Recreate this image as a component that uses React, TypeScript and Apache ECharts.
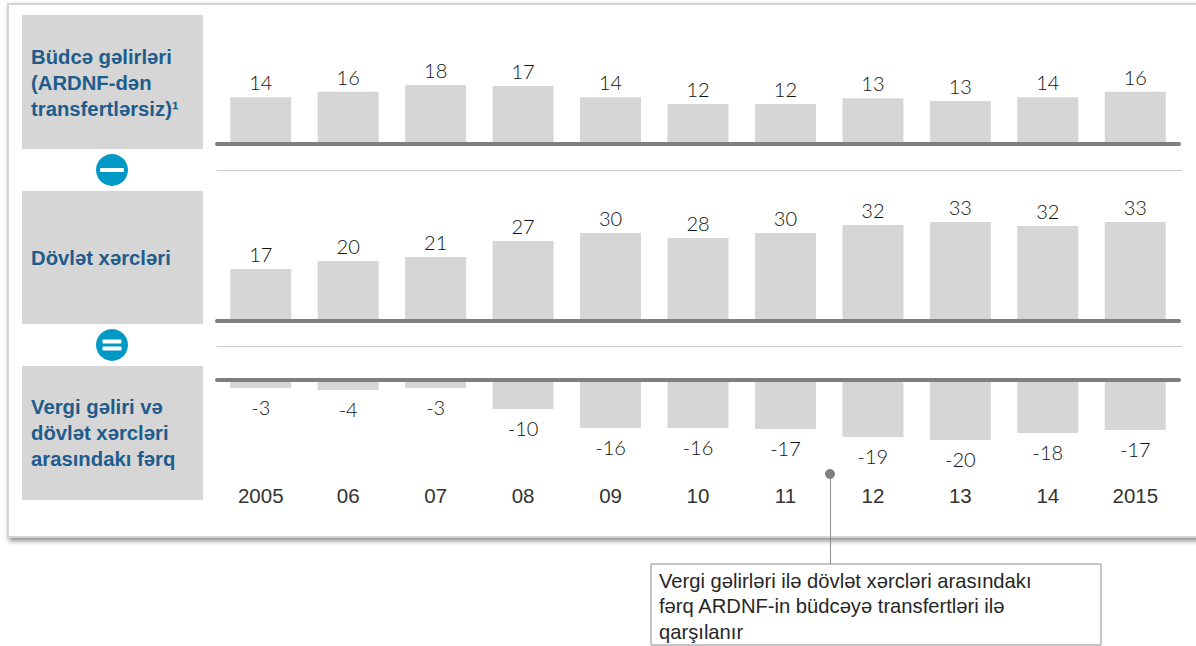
import React, { useEffect, useRef } from "react";
import * as echarts from "echarts";

const years = ["2005", "06", "07", "08", "09", "10", "11", "12", "13", "14", "2015"];
const revenueHeights = [14.2, 15.8, 17.9, 17.6, 14.2, 12.1, 12.1, 13.9, 13.0, 14.2, 15.8];
const revenueLabels = [14, 16, 18, 17, 14, 12, 12, 13, 13, 14, 16];
const spendingHeights = [17.3, 20, 21.3, 26.7, 29.3, 27.7, 29.3, 32, 33, 31.7, 33];
const spendingLabels = [17, 20, 21, 27, 30, 28, 30, 32, 33, 32, 33];
const gapHeights = [-2.7, -3.3, -2.7, -9.7, -16, -16, -16.3, -19, -20, -17.7, -16.7];
const gapLabels = [-3, -4, -3, -10, -16, -16, -17, -19, -20, -18, -17];

const rowTitles = [
  "Büdcə gəlirləri\n(ARDNF-dən\ntransfertlərsiz)¹",
  "Dövlət xərcləri",
  "Vergi gəliri və\ndövlət xərcləri\narasındakı fərq",
];
const note = "Vergi gəlirləri ilə dövlət xərcləri arasındakı\nfərq ARDNF-in büdcəyə transfertləri ilə\nqarşılanır";

const SANS = "Liberation Sans, Arial, sans-serif";
const NUM = "Lato, Liberation Sans, sans-serif";
const BAR = "#d6d6d6";
const AXIS = "#7f7f7f";
const BLUE = "#0099c6";
const TITLE = "#1f5c8b";

const GRID_LEFT = 217;
const GRID_WIDTH = 962;

function panelSeries(xAxisIndex: number, yAxisIndex: number, values: number[], labels: number[], position: string, distance: number) {
  return {
    type: "bar",
    xAxisIndex,
    yAxisIndex,
    data: values,
    barWidth: 61,
    silent: true,
    itemStyle: { color: BAR },
    label: {
      show: true,
      position,
      distance,
      fontFamily: NUM,
      fontWeight: 300,
      fontSize: 20,
      color: "#111111",
      formatter: (p: { dataIndex: number }) => String(labels[p.dataIndex]),
    },
  };
}

function baseXAxis(gridIndex: number, pos: string) {
  return {
    type: "category",
    gridIndex,
    position: pos,
    data: years,
    z: 5,
    axisLine: { show: true, onZero: false, lineStyle: { color: AXIS, width: 4, cap: "round" } },
    axisTick: { show: false },
    axisLabel: { show: false },
    splitLine: { show: false },
  };
}

function hiddenY(gridIndex: number, min: number, max: number) {
  return { type: "value", gridIndex, min, max, show: false, splitLine: { show: false } };
}

function titleBox(y: number, h: number, textY: number, text: string) {
  return [
    { type: "rect", z: 1, shape: { x: 22, y, width: 181, height: h }, style: { fill: BAR } },
    {
      type: "text",
      z: 2,
      x: 31,
      y: textY,
      style: { text, fill: TITLE, font: `bold 20.3px ${SANS}`, lineHeight: 26, textAlign: "left", textVerticalAlign: "middle" },
    },
  ];
}

function sign(cy: number, width: number, bars: number[]) {
  return [
    { type: "circle", z: 2, shape: { cx: 112, cy, r: 16 }, style: { fill: BLUE } },
    ...bars.map((y) => ({
      type: "rect",
      z: 3,
      shape: { x: 112 - width / 2, y: cy + y - 2, width, height: 4, r: 1 },
      style: { fill: "#ffffff" },
    })),
  ];
}

function thinLine(y: number) {
  return { type: "line", z: 1, shape: { x1: 217, y1: y, x2: 1182, y2: y }, style: { stroke: "#c9c9c9", lineWidth: 1 } };
}

export default function App() {
  const ref = useRef<HTMLDivElement>(null);
  useEffect(() => {
    if (!ref.current) return;
    const chart = echarts.init(ref.current, null, { renderer: "svg" });
    chart.setOption({
      animation: false,
      backgroundColor: "#ffffff",
      tooltip: { show: false },
      grid: [
        { left: GRID_LEFT, width: GRID_WIDTH, top: 45, height: 99 },
        { left: GRID_LEFT, width: GRID_WIDTH, top: 201, height: 120 },
        { left: GRID_LEFT, width: GRID_WIDTH, top: 380, height: 90 },
      ],
      xAxis: [
        baseXAxis(0, "bottom"),
        baseXAxis(1, "bottom"),
        baseXAxis(2, "top"),
        {
          type: "category",
          gridIndex: 2,
          position: "bottom",
          data: years,
          axisLine: { show: false },
          axisTick: { show: false },
          axisLabel: { show: true, interval: 0, margin: 15, fontFamily: SANS, fontWeight: "normal", fontSize: 20.5, color: "#333333" },
        },
      ],
      yAxis: [hiddenY(0, 0, 30), hiddenY(1, 0, 40), hiddenY(2, -30, 0)],
      series: [
        panelSeries(0, 0, revenueHeights, revenueLabels, "top", 5),
        panelSeries(1, 1, spendingHeights, spendingLabels, "top", 5),
        panelSeries(2, 2, gapHeights, gapLabels, "bottom", 9),
      ],
      graphic: {
        elements: [
          {
            type: "rect",
            z: 0,
            shape: { x: 8, y: 4, width: 1300, height: 533 },
            style: { fill: "#ffffff", stroke: "#d4d4d4", lineWidth: 2, shadowBlur: 5, shadowOffsetX: 2, shadowOffsetY: 3, shadowColor: "rgba(0,0,0,0.45)" },
          },
          ...titleBox(15, 134, 83, rowTitles[0]),
          ...titleBox(191, 133, 258, rowTitles[1]),
          ...titleBox(366, 134, 433, rowTitles[2]),
          ...sign(170, 24, [0]),
          ...sign(345, 19, [-3.5, 3.5]),
          thinLine(170.5),
          thinLine(346.5),
          { type: "line", z: 4, shape: { x1: 830.5, y1: 474, x2: 830.5, y2: 564 }, style: { stroke: "#8c8c8c", lineWidth: 1 } },
          { type: "circle", z: 4, shape: { cx: 830, cy: 474, r: 5 }, style: { fill: "#7f7f7f" } },
          {
            type: "rect",
            z: 4,
            shape: { x: 651, y: 564, width: 450, height: 81 },
            style: { fill: "#ffffff", stroke: "#8c8c8c", lineWidth: 1 },
          },
          {
            type: "text",
            z: 5,
            x: 659,
            y: 606,
            style: { text: note, fill: "#262626", font: `20.2px ${SANS}`, lineHeight: 25.5, textAlign: "left", textVerticalAlign: "middle" },
          },
        ],
      },
    });
    return () => chart.dispose();
  }, []);
  return <div ref={ref} style={{ position: "absolute", left: 0, top: 0, width: 1196, height: 646 }} />;
}
